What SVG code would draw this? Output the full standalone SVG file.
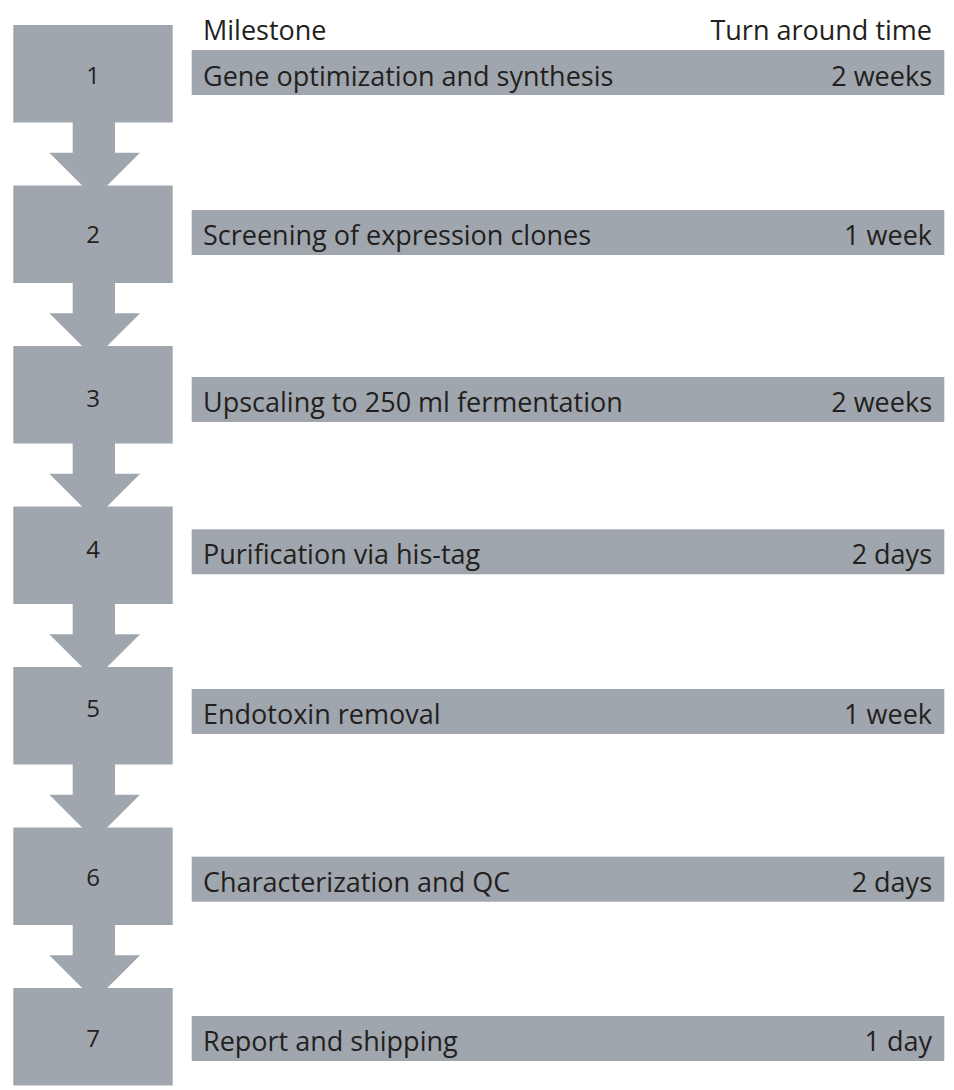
<svg xmlns="http://www.w3.org/2000/svg" width="954" height="1090" viewBox="0 0 954 1090">
<style>
.box{fill:#a0a6ad}
.bar{fill:#a0a6ad}
.arr{fill:#a0a6ad}
.num{font-family:"Open Sans","Noto Sans",sans-serif;font-size:24px;fill:#231f20;text-anchor:middle}
.lbl{font-family:"Open Sans","Noto Sans",sans-serif;font-size:27px;fill:#231f20}
.time{font-family:"Open Sans","Noto Sans",sans-serif;font-size:27px;fill:#231f20;text-anchor:end}
</style>
<rect width="954" height="1090" fill="#ffffff"/>
<g id="header">
<text class="lbl" x="203" y="40">Milestone</text>
<text class="time" x="932" y="40">Turn around time</text>
</g>
<g id="connectors">
<polygon class="arr" points="72.7,121.5 115,121.5 115,152.8 140,152.8 94.65,198.1 49.3,152.8 72.7,152.8"/>
<polygon class="arr" points="72.7,282 115,282 115,313.3 140,313.3 94.65,358.6 49.3,313.3 72.7,313.3"/>
<polygon class="arr" points="72.7,442.5 115,442.5 115,473.8 140,473.8 94.65,519.1 49.3,473.8 72.7,473.8"/>
<polygon class="arr" points="72.7,603 115,603 115,634.3 140,634.3 94.65,679.6 49.3,634.3 72.7,634.3"/>
<polygon class="arr" points="72.7,763.5 115,763.5 115,794.8 140,794.8 94.65,840.1 49.3,794.8 72.7,794.8"/>
<polygon class="arr" points="72.7,924 115,924 115,955.3 140,955.3 94.65,1000.6 49.3,955.3 72.7,955.3"/>
</g>
<g id="step1">
<rect class="box" x="13.3" y="25" width="159.4" height="97.5"/>
<text class="num" x="93" y="84">1</text>
<rect class="bar" x="191.7" y="50" width="752.6" height="45"/>
<text class="lbl" x="203" y="85.7">Gene optimization and synthesis</text>
<text class="time" x="932" y="85.7">2 weeks</text>
</g>
<g id="step2">
<rect class="box" x="13.3" y="185.5" width="159.4" height="97.5"/>
<text class="num" x="93" y="243.3">2</text>
<rect class="bar" x="191.7" y="210" width="752.6" height="45"/>
<text class="lbl" x="203" y="245">Screening of expression clones</text>
<text class="time" x="932" y="245">1 week</text>
</g>
<g id="step3">
<rect class="box" x="13.3" y="346" width="159.4" height="97.5"/>
<text class="num" x="93" y="407.3">3</text>
<rect class="bar" x="191.7" y="377" width="752.6" height="45"/>
<text class="lbl" x="203" y="412">Upscaling to 250 ml fermentation</text>
<text class="time" x="932" y="412">2 weeks</text>
</g>
<g id="step4">
<rect class="box" x="13.3" y="506.5" width="159.4" height="97.5"/>
<text class="num" x="93" y="558">4</text>
<rect class="bar" x="191.7" y="529.3" width="752.6" height="45"/>
<text class="lbl" x="203" y="564">Purification via his-tag</text>
<text class="time" x="932" y="564">2 days</text>
</g>
<g id="step5">
<rect class="box" x="13.3" y="667" width="159.4" height="97.5"/>
<text class="num" x="93" y="717">5</text>
<rect class="bar" x="191.7" y="689" width="752.6" height="45"/>
<text class="lbl" x="203" y="724">Endotoxin removal</text>
<text class="time" x="932" y="724">1 week</text>
</g>
<g id="step6">
<rect class="box" x="13.3" y="827.5" width="159.4" height="97.5"/>
<text class="num" x="93" y="886">6</text>
<rect class="bar" x="191.7" y="856.7" width="752.6" height="45"/>
<text class="lbl" x="203" y="891.7">Characterization and QC</text>
<text class="time" x="932" y="891.7">2 days</text>
</g>
<g id="step7">
<rect class="box" x="13.3" y="988" width="159.4" height="97.5"/>
<text class="num" x="93" y="1047.3">7</text>
<rect class="bar" x="191.7" y="1016" width="752.6" height="45"/>
<text class="lbl" x="203" y="1051">Report and shipping</text>
<text class="time" x="932" y="1051">1 day</text>
</g>
</svg>
